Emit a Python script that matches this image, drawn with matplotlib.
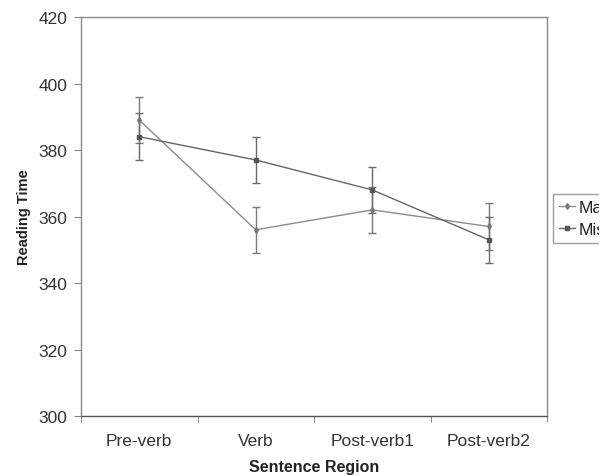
import matplotlib
matplotlib.use("Agg")
import matplotlib.pyplot as plt
from matplotlib.lines import Line2D
from matplotlib.transforms import Bbox
import numpy as np

plt.rcParams['font.family'] = ['Liberation Sans', 'DejaVu Sans']

regions = ["Pre-verb", "Verb", "Post-verb1", "Post-verb2"]
match_vals = [389, 356, 362, 357]
match_err = [7, 7, 7, 7]
mismatch_vals = [384, 377, 368, 353]
mismatch_err = [7, 7, 7, 7]
series_names = ["Match", "Mismatch"]
yticks = [300, 320, 340, 360, 380, 400, 420]

fig = plt.figure(figsize=(6.12, 4.77), dpi=100)
ax = fig.add_axes([81/612, 1 - 417/477, 466/612, 399/477])

c_match = '#8c8c8c'
c_mis = '#666666'

x = np.arange(len(regions))
ax.errorbar(x, match_vals, yerr=match_err, color=c_match, ecolor='#7a7a7a',
            lw=1.0, elinewidth=1.0, capsize=3, capthick=1.0,
            marker='d', ms=3, mfc='#777777', mec='#777777')
ax.errorbar(x, mismatch_vals, yerr=mismatch_err, color=c_mis, ecolor='#6a6a6a',
            lw=1.0, elinewidth=1.0, capsize=3, capthick=1.0,
            marker='s', ms=2.5, mfc='#555555', mec='#555555')

ax.set_xlim(-0.5, len(regions) - 0.5)
ax.set_ylim(300, 420)
ax.set_yticks(yticks)
ax.set_xticks(x)
ax.set_xticklabels(regions)
ax.set_xticks(np.arange(len(regions) + 1) - 0.5, minor=True)
ax.tick_params(axis='x', which='major', length=0, pad=12, labelsize=12.5, labelcolor='#333333')
ax.tick_params(axis='x', which='minor', length=4, direction='out', color='#777777')
ax.tick_params(axis='y', length=5, direction='out', pad=5, labelsize=12.5, color='#888888',
               labelcolor='#333333')

for s in ax.spines.values():
    s.set_color('#8a8a8a')
    s.set_linewidth(1.0)
ax.spines['bottom'].set_color('#555555')

ax.set_xlabel("Sentence Region", fontsize=11.5, fontweight='bold', labelpad=8, color='#222222')
ax.set_ylabel("Reading Time", fontsize=10.5, fontweight='bold', labelpad=5, color='#222222')

handles = [Line2D([], [], color=c_match, lw=1.0, marker='d', ms=3, mfc='#777777', mec='#777777'),
           Line2D([], [], color=c_mis, lw=1.0, marker='s', ms=2.5, mfc='#555555', mec='#555555')]
leg = fig.legend(handles, series_names, loc='upper left',
                 bbox_to_anchor=(553/612, 1 - 195/477),
                 fontsize=12.5, frameon=True, fancybox=False, handlelength=0.9,
                 handletextpad=0.2, labelspacing=0.4, borderpad=0.35, borderaxespad=0)
leg.get_frame().set_edgecolor('#888888')
leg.get_frame().set_linewidth(1.0)

# the reference picture's content is cropped a little before the right edge
clip = Bbox([[0, 0], [599, 477]])
for t in leg.get_texts():
    t.set_color('#222222')
    t.set_clip_box(clip)
    t.set_clip_on(True)
for ln in leg.get_lines():
    ln.set_clip_box(clip)
    ln.set_clip_on(True)
leg.legendPatch.set_clip_box(clip)
leg.legendPatch.set_clip_on(True)

fig.savefig("out.png", dpi=100)
